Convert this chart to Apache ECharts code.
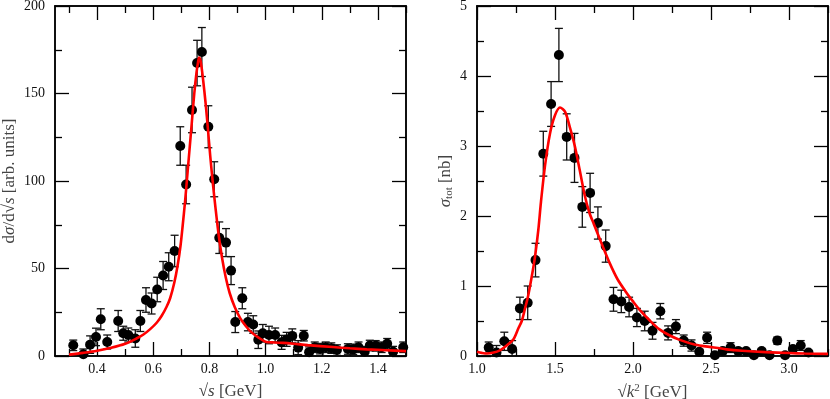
<!DOCTYPE html>
<html>
<head>
<meta charset="utf-8">
<script src="https://cdn.jsdelivr.net/npm/echarts@6/dist/echarts.min.js"></script>
<style>
  html, body { margin: 0; padding: 0; background: #fff; }
  #chart { width: 830px; height: 399px; }
</style>
</head>
<body>
<div id="chart"></div>
<script>
// left panel: d sigma / d sqrt(s)
var leftX = [0.315, 0.351, 0.375, 0.396, 0.413, 0.436, 0.475, 0.493, 0.511, 0.536, 0.554, 0.574, 0.594, 0.614, 0.635,
  0.655, 0.676, 0.696, 0.717, 0.738, 0.756, 0.773, 0.796, 0.817, 0.835, 0.859, 0.877, 0.892, 0.917, 0.937, 0.956,
  0.974, 0.99, 1.012, 1.034, 1.057, 1.075, 1.095, 1.116, 1.136, 1.155, 1.175, 1.194, 1.214, 1.234, 1.254, 1.293,
  1.312, 1.331, 1.353, 1.371, 1.392, 1.413, 1.433, 1.454, 1.49];
var leftY = [6.1, 1, 6.5, 10.9, 21, 8, 20, 13, 12, 10, 20, 32, 30, 38, 46,
  51, 60, 120, 98, 140.6, 167.4, 173.7, 131, 101, 67.6, 64.8, 48.8, 19.4, 33, 19.4, 18,
  9.3, 13, 12, 12, 7.8, 9.5, 11.5, 4.8, 11.6, 2.2, 5, 4.2, 5, 4.5, 3.4, 4,
  3.8, 5, 2.4, 6, 5.8, 5, 7, 2.5, 5];
var leftErr = [3, 3, 5, 5, 6, 4, 6, 4, 4, 5, 6, 7, 6, 7, 8,
  8, 9, 11, 11, 13, 13, 14, 12, 10, 9, 8, 8, 6, 6, 5, 5,
  5, 5, 5, 4, 4, 4, 4, 4, 3, 3, 3, 3, 3, 3, 3, 3,
  3, 3, 3, 3, 3, 3, 3, 3, 3];
var leftCurveX = [0.3, 0.35, 0.4, 0.45, 0.5, 0.54, 0.565, 0.59, 0.612, 0.63, 0.647, 0.66, 0.675, 0.687, 0.697,
  0.705, 0.713, 0.72, 0.728, 0.737, 0.746, 0.754, 0.759, 0.763, 0.767, 0.772, 0.778, 0.786, 0.795, 0.803,
  0.812, 0.822, 0.833, 0.845, 0.858, 0.872, 0.89, 0.91, 0.93, 0.95, 0.975, 1.0, 1.03, 1.062, 1.1,
  1.15, 1.24, 1.3, 1.36, 1.43, 1.5];
var leftCurveY = [0.8, 1.8, 3, 4.7, 7, 10, 12.3, 15.5, 19, 23, 28, 33, 42, 52, 63,
  75, 88, 101, 116, 133, 150, 162, 167.5, 170.5, 169.5, 165, 157, 145, 129, 114,
  99, 84, 69, 56, 45, 36, 28, 21.5, 17, 13.5, 10.5, 8.2, 7.7, 7.5, 7,
  6.2, 5.1, 4.4, 3.8, 3.3, 2.8];
var leftXTicks = [0.4, 0.6, 0.8, 1.0, 1.2, 1.4];
var leftXMinor = [0.3, 0.5, 0.7, 0.9, 1.1, 1.3, 1.5];
var leftYTicks = [0, 50, 100, 150, 200];
var leftYMinor = [25, 75, 125, 175];

// right panel: sigma_tot
var rightX = [1.075, 1.125, 1.175, 1.225, 1.275, 1.325, 1.375, 1.425, 1.475, 1.525, 1.575, 1.625, 1.675, 1.725,
  1.775, 1.825, 1.875, 1.925, 1.975, 2.025, 2.075, 2.125, 2.175, 2.225, 2.275, 2.325, 2.375, 2.425,
  2.475, 2.525, 2.575, 2.625, 2.675, 2.725, 2.775, 2.825, 2.875, 2.925, 2.975, 3.025, 3.075, 3.125];
var rightY = [0.12, 0.05, 0.21, 0.1, 0.68, 0.76, 1.37, 2.89, 3.6, 4.3, 3.13, 2.83, 2.13, 2.33,
  1.9, 1.57, 0.81, 0.78, 0.7, 0.55, 0.5, 0.36, 0.64, 0.33, 0.42, 0.22, 0.15, 0.06,
  0.26, 0.01, 0.07, 0.12, 0.07, 0.07, 0.01, 0.07, 0.01, 0.22, 0.01, 0.1, 0.15, 0.05];
var rightErr = [0.08, 0.1, 0.13, 0.12, 0.16, 0.24, 0.24, 0.32, 0.32, 0.38, 0.33, 0.35, 0.29, 0.28,
  0.23, 0.23, 0.17, 0.16, 0.14, 0.13, 0.14, 0.12, 0.11, 0.1, 0.1, 0.08, 0.08, 0.03,
  0.08, 0.02, 0.04, 0.07, 0.04, 0.03, 0.02, 0.03, 0.02, 0.05, 0.02, 0.04, 0.07, 0.02];
var rightCurveX = [1.0, 1.03, 1.065, 1.1, 1.15, 1.19, 1.234, 1.266, 1.287, 1.308, 1.325, 1.34, 1.356, 1.372,
  1.393, 1.41, 1.436, 1.468, 1.5, 1.532, 1.564, 1.595, 1.628, 1.659, 1.69, 1.72, 1.75, 1.8, 1.85,
  1.9, 1.95, 2.0, 2.05, 2.106, 2.17, 2.23, 2.3, 2.4, 2.49, 2.6, 2.7, 2.85, 3.0, 3.1, 3.25];
var rightCurveY = [0.06, 0.045, 0.035, 0.045, 0.085, 0.15, 0.24, 0.4, 0.5, 0.68, 0.83, 1.0, 1.2, 1.42,
  1.8, 2.2, 2.72, 3.18, 3.44, 3.55, 3.49, 3.27, 2.99, 2.65, 2.3, 2.05, 1.88, 1.6, 1.33,
  1.1, 0.93, 0.78, 0.64, 0.51, 0.38, 0.3, 0.23, 0.16, 0.13, 0.095, 0.075, 0.055, 0.042, 0.035, 0.03];
var rightXTicks = [1.0, 1.5, 2.0, 2.5, 3.0];
var rightXMinor = [1.25, 1.75, 2.25, 2.75, 3.25];
var rightYTicks = [0, 1, 2, 3, 4, 5];
var rightYMinor = [0.5, 1.5, 2.5, 3.5, 4.5];

var FONT = '"Liberation Serif", "DejaVu Serif", serif';
var nameRich = {
    i: { fontFamily: FONT, fontStyle: 'italic', fontSize: 17, color: '#444' },
    sub: { fontFamily: FONT, fontStyle: 'normal', fontSize: 11, color: '#444', padding: [8, 0, 0, 0] },
    sup: { fontFamily: FONT, fontStyle: 'normal', fontSize: 11, color: '#444', padding: [0, 0, 8, 0] }
};

function pairs(xs, ys) {
    return xs.map(function (x, i) { return [x, ys[i]]; });
}
function triples(xs, ys, es) {
    return xs.map(function (x, i) { return [x, ys[i], es[i]]; });
}

function tickAxis(grid, min, max, pos, values, len, withLabels, digits, margin) {
    return {
        gridIndex: grid, type: 'value', min: min, max: max, position: pos,
        axisLine: { show: true, onZero: false, lineStyle: { color: '#000', width: 1.5 } },
        splitLine: { show: false },
        axisTick: { show: true, inside: true, length: len, customValues: values, lineStyle: { color: '#000', width: 1.3 } },
        axisLabel: withLabels ? {
            customValues: values, inside: false, margin: margin, fontFamily: FONT, fontSize: 14, color: '#111',
            formatter: function (v) { return v.toFixed(digits); }
        } : { show: false }
    };
}

function xAxes(grid, min, max, ticks, minor, name) {
    var main = tickAxis(grid, min, max, 'bottom', ticks, 14, true, 1, 6);
    main.name = name;
    main.nameLocation = 'middle';
    main.nameGap = 27;
    main.nameTextStyle = { fontFamily: FONT, fontSize: 17, color: '#444', rich: nameRich };
    return [main,
        tickAxis(grid, min, max, 'bottom', minor, 7, false),
        tickAxis(grid, min, max, 'top', ticks, 14, false),
        tickAxis(grid, min, max, 'top', minor, 7, false)];
}

function yAxes(grid, min, max, ticks, minor, name, gap) {
    var main = tickAxis(grid, min, max, 'left', ticks, 14, true, 0, 10);
    main.name = name;
    main.nameLocation = 'middle';
    main.nameRotate = 90;
    main.nameGap = gap;
    main.nameTextStyle = { fontFamily: FONT, fontSize: 17, color: '#444', rich: nameRich };
    return [main,
        tickAxis(grid, min, max, 'left', minor, 7, false),
        tickAxis(grid, min, max, 'right', ticks, 14, false),
        tickAxis(grid, min, max, 'right', minor, 7, false)];
}

function errorBars(xIdx, yIdx, data) {
    return {
        type: 'custom', xAxisIndex: xIdx, yAxisIndex: yIdx, data: data, clip: true, z: 3,
        renderItem: function (params, api) {
            var x = api.value(0), y = api.value(1), e = api.value(2);
            var top = api.coord([x, y + e]);
            var bot = api.coord([x, y - e]);
            var w = 4;
            var st = { stroke: '#111', lineWidth: 1.3 };
            return {
                type: 'group',
                children: [
                    { type: 'line', shape: { x1: top[0], y1: top[1], x2: bot[0], y2: bot[1] }, style: st },
                    { type: 'line', shape: { x1: top[0] - w, y1: top[1], x2: top[0] + w, y2: top[1] }, style: st },
                    { type: 'line', shape: { x1: bot[0] - w, y1: bot[1], x2: bot[0] + w, y2: bot[1] }, style: st }
                ]
            };
        }
    };
}

var option = {
    animation: false,
    backgroundColor: '#fff',
    grid: [
        { left: 55, right: 424, top: 6, bottom: 43, show: false, containLabel: false, outerBoundsMode: 'none' },
        { left: 477, right: 2, top: 6, bottom: 43, show: false, containLabel: false, outerBoundsMode: 'none' }
    ],
    xAxis: xAxes(0, 0.25, 1.5, leftXTicks, leftXMinor, '√{i|s} [GeV]')
        .concat(xAxes(1, 1.0, 3.25, rightXTicks, rightXMinor, '√{i|k}{sup|2} [GeV]')),
    yAxis: yAxes(0, 0, 200, leftYTicks, leftYMinor, 'd{i|σ}/d√{i|s} [arb. units]', 37)
        .concat(yAxes(1, 0, 5, rightYTicks, rightYMinor, '{i|σ}{sub|tot} [nb]', 22)),
    series: [
        errorBars(0, 0, triples(leftX, leftY, leftErr)),
        {
            type: 'scatter', xAxisIndex: 0, yAxisIndex: 0, data: pairs(leftX, leftY),
            symbol: 'circle', symbolSize: 10, itemStyle: { color: '#000', opacity: 1 }, z: 4
        },
        {
            type: 'line', xAxisIndex: 0, yAxisIndex: 0, data: pairs(leftCurveX, leftCurveY),
            showSymbol: false, smooth: 0.3, lineStyle: { color: '#f00', width: 2.6 }, z: 5
        },
        errorBars(4, 4, triples(rightX, rightY, rightErr)),
        {
            type: 'scatter', xAxisIndex: 4, yAxisIndex: 4, data: pairs(rightX, rightY),
            symbol: 'circle', symbolSize: 10, itemStyle: { color: '#000', opacity: 1 }, z: 4
        },
        {
            type: 'line', xAxisIndex: 4, yAxisIndex: 4, data: pairs(rightCurveX, rightCurveY),
            showSymbol: false, smooth: 0.3, lineStyle: { color: '#f00', width: 2.6 }, z: 5
        }
    ]
};

var chart = echarts.init(document.getElementById('chart'));
chart.setOption(option);
</script>
</body>
</html>
